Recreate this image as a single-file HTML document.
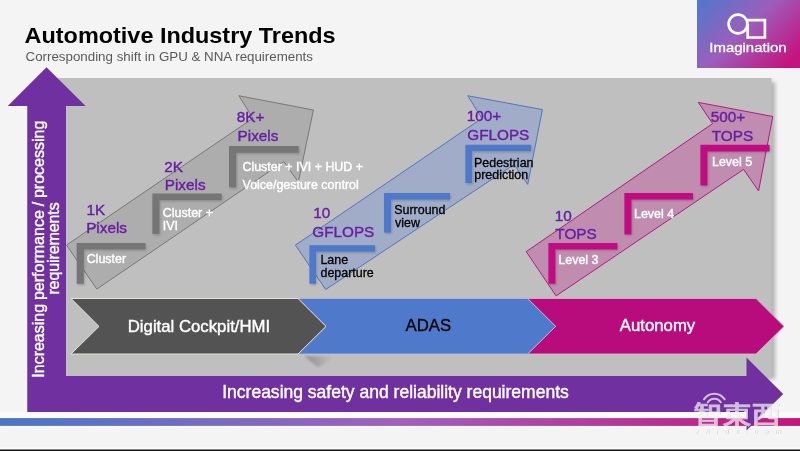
<!DOCTYPE html>
<html><head><meta charset="utf-8">
<style>
html,body{margin:0;padding:0;background:#f4f4f4;}
body{width:800px;height:451px;overflow:hidden;position:relative;font-family:"Liberation Sans",sans-serif;}
svg{position:absolute;left:0;top:0;display:block;will-change:transform;}
text{font-family:"Liberation Sans","Noto Sans CJK SC",sans-serif;}
.p{fill:#681fa4;font-size:15.3px;stroke:#681fa4;stroke-width:0.4px;}
.w{fill:#fff;font-size:12.45px;stroke:#fff;stroke-width:0.4px;}
.k{fill:#000;font-size:12.45px;stroke:#000;stroke-width:0.3px;}
</style></head><body>
<svg width="800" height="451" viewBox="0 0 800 451">
<defs>
<linearGradient id="lg" gradientUnits="userSpaceOnUse" x1="697" y1="0" x2="773" y2="77">
<stop offset="0" stop-color="#4c78cc"/><stop offset="0.5" stop-color="#9a5fbc"/><stop offset="1" stop-color="#c4157f"/>
</linearGradient>
<linearGradient id="bar" x1="0" y1="0" x2="1" y2="0">
<stop offset="0" stop-color="#4a76c8"/><stop offset="0.5" stop-color="#a060bc"/><stop offset="1" stop-color="#c4157f"/>
</linearGradient>
<filter id="ps" x="-5%" y="-5%" width="112%" height="112%"><feGaussianBlur stdDeviation="2.3"/></filter>
<filter id="bs" x="-20%" y="-20%" width="150%" height="150%"><feGaussianBlur stdDeviation="1"/></filter>
<linearGradient id="sh" x1="304" y1="0" x2="333" y2="0" gradientUnits="userSpaceOnUse">
<stop offset="0" stop-color="#707070" stop-opacity="0.6"/><stop offset="0.45" stop-color="#7a7a7a" stop-opacity="0.4"/><stop offset="1" stop-color="#8a8a8a" stop-opacity="0"/>
</linearGradient>
<filter id="sb" x="-10%" y="-20%" width="120%" height="140%"><feGaussianBlur stdDeviation="0.9"/></filter>
<polygon id="arrow" points="66.25,245.5 254,118 239,96 313.4,110 298.6,181.6 283.6,162 97,288.75"/>
</defs>
<rect width="800" height="451" fill="#f4f4f4"/>
<!-- bottom bar -->
<rect x="0" y="412.3" width="800" height="15.2" fill="#fbfbfb"/>
<rect x="0" y="418.1" width="800" height="7.8" fill="url(#bar)"/>
<rect x="0" y="447.6" width="800" height="2" fill="#fdfdfd"/>
<rect x="0" y="449.5" width="800" height="1.5" fill="#111"/>

<!-- panel shadow + panel -->
<rect x="62" y="82" width="713" height="297" fill="#000" opacity="0.28" filter="url(#ps)"/>
<rect x="58" y="78" width="713.6" height="300" fill="#bfbfbf"/>

<!-- diagonal arrows -->
<polygon points="66.5,245.1 253,118.2 238.9,95.75 313.4,110 298.3,182.1 283.8,161.6 96.8,289.1" fill="#a9a9a9" fill-opacity="0.85" stroke="#787878" stroke-width="1"/>
<polygon points="295.4,245.1 481.8,118.4 467.75,95.75 542.4,109.6 527.7,184.4 514.2,164.5 325.7,289.5" fill="#9fabc8" fill-opacity="0.95" stroke="#5076bc" stroke-width="1"/>
<polygon points="526.25,251.6 712.6,123.6 698.3,102.4 772.8,116.5 758.6,191 743.6,169.4 556.1,295.9" fill="#c08ab0" fill-opacity="0.95" stroke="#b01c7c" stroke-width="1"/>

<!-- brackets -->
<g fill="#000" opacity="0.18" filter="url(#bs)" transform="translate(1,1.4)">
<path d="M76.7 242.9H145.4V249.3H83.8V283.8H76.7Z"/><path d="M152.4 193.6H221.6V200H159.4V234H152.4Z"/><path d="M229 145.9H298.7V152.8H236.1V187.3H229Z"/><path d="M309.4 245.2H375V251.5H316V283.8H309.4Z"/><path d="M384 193H450V199.4H391V232.4H384Z"/><path d="M465.4 144.8H531V151H472V183H465.4Z"/><path d="M548.4 243H617.4V249.4H555.4V283.8H548.4Z"/><path d="M624.4 193H693V199.6H631.4V234.4H624.4Z"/><path d="M700.4 144.8H769.6V151.4H707.4V185.4H700.4Z"/>
</g>
<g fill="#767676"><path d="M76.7 242.9H145.4V249.3H83.8V283.8H76.7Z"/><path d="M152.4 193.6H221.6V200H159.4V234H152.4Z"/><path d="M229 145.9H298.7V152.8H236.1V187.3H229Z"/></g>
<g fill="#4e79ca"><path d="M309.4 245.2H375V251.5H316V283.8H309.4Z"/><path d="M384 193H450V199.4H391V232.4H384Z"/><path d="M465.4 144.8H531V151H472V183H465.4Z"/></g>
<g fill="#c00c80"><path d="M548.4 243H617.4V249.4H555.4V283.8H548.4Z"/><path d="M624.4 193H693V199.6H631.4V234.4H624.4Z"/><path d="M700.4 144.8H769.6V151.4H707.4V185.4H700.4Z"/></g>

<!-- labels -->
<text class="p" x="86.45" y="214.9">1K</text>
<text class="p" x="86.15" y="233.1">Pixels</text>
<text class="p" x="164.25" y="171.6">2K</text>
<text class="p" x="164.75" y="190">Pixels</text>
<text class="p" x="236.85" y="122.2">8K+</text>
<text class="p" x="237.55" y="140.6">Pixels</text>
<text class="p" x="313.15" y="218">10</text>
<text class="p" x="312.25" y="236.5">GFLOPS</text>
<text class="p" x="466.75" y="121.3">100+</text>
<text class="p" x="467.25" y="139.6">GFLOPS</text>
<text class="p" x="554.75" y="221">10</text>
<text class="p" x="555.35" y="239.4">TOPS</text>
<text class="p" x="710.65" y="122.4">500+</text>
<text class="p" x="711.75" y="140.9">TOPS</text>
<text class="w" x="86.65" y="262.7">Cluster</text>
<text class="w" x="162.85" y="217">Cluster +</text>
<text class="w" x="162.75" y="230">IVI</text>
<text class="w" x="242.45" y="171">Cluster + IVI + HUD +</text>
<text class="w" x="242.55" y="189.2">Voice/gesture control</text>
<text class="w" x="558.4" y="264">Level 3</text>
<text class="w" x="634" y="218">Level 4</text>
<text class="w" x="712" y="166.4">Level 5</text>
<text class="k" x="320.4" y="264">Lane</text>
<text class="k" x="320.5" y="276.6">departure</text>
<text class="k" x="394.25" y="214">Surround</text>
<text class="k" x="395" y="226.6">view</text>
<text class="k" x="474" y="166.6">Pedestrian</text>
<text class="k" x="474.25" y="179">prediction</text>

<!-- chevrons -->
<polygon points="304.5,356.3 335,356.3 331,361 318,367.5" fill="url(#sh)" filter="url(#sb)"/>
<polygon points="298,298.5 756,298.5 784,326.4 756,354 298,354" fill="#b80c7c"/>
<polygon points="527.6,298.5 756,298.5 784,326.4 756,354 527.6,354 555.6,326.4" fill="#b80c7c" stroke="#d8c0d0" stroke-width="0.8"/>
<polygon points="298,298.5 527.6,298.5 555.6,326.4 527.6,354 298,354 326,326.4" fill="#4f7acb" stroke="#bcc4d4" stroke-width="0.8"/>
<polygon points="71,298.5 298,298.5 326,326.4 298,354 71,354 99,326.4" fill="#535353" stroke="#e6e2d8" stroke-width="1"/>
<text x="127.75" y="331.6" font-size="16.75" fill="#fff" stroke="#fff" stroke-width="0.4">Digital Cockpit/HMI</text>
<text x="405.5" y="330.85" font-size="16.75" fill="#000" stroke="#000" stroke-width="0.3">ADAS</text>
<text x="619.8" y="330.9" font-size="16.75" fill="#fff" stroke="#fff" stroke-width="0.4">Autonomy</text>

<!-- purple arrows -->
<polygon points="46.5,67.25 85.6,106 66,106 66,376 746.5,376 746.5,357.5 783.2,394 746.5,430.5 746.5,412 27.25,412 27.25,106 7.75,106" fill="#7030a0"/>
<text x="222.2" y="398" font-size="17.53" fill="#fff" stroke="#fff" stroke-width="0.4">Increasing safety and reliability requirements</text>
<text transform="translate(43.8,377.7) rotate(-90)" font-size="16" style="word-spacing:-0.6px" fill="#fff" stroke="#fff" stroke-width="0.4">Increasing performance / processing</text>
<text transform="translate(59,294.6) rotate(-90)" font-size="16" textLength="92.3" lengthAdjust="spacing" fill="#fff" stroke="#fff" stroke-width="0.4">requirements</text>

<!-- title -->
<text x="24.6" y="42.8" font-size="22.8" font-weight="bold" fill="#000" textLength="311" lengthAdjust="spacingAndGlyphs">Automotive Industry Trends</text>
<text x="25.5" y="60.6" font-size="13.15" fill="#595959" textLength="287.5" lengthAdjust="spacingAndGlyphs">Corresponding shift in GPU &amp; NNA requirements</text>

<!-- logo -->
<rect x="697" y="0" width="103" height="68" fill="url(#lg)"/>
<g fill="none" stroke="#fff" stroke-width="2.7">
<circle cx="738" cy="24" r="9.4"/>
<path d="M747.7 24V37.5H764.9V20.2H746"/>
</g>
<text x="709.3" y="51.7" font-size="12.85" textLength="77.3" lengthAdjust="spacingAndGlyphs" fill="#fff" stroke="#fff" stroke-width="0.3">Imagination</text>

<!-- watermark -->
<g fill="#000" opacity="0.13" transform="translate(0.8,0.8)">
<text x="693.5" y="423.6" font-size="24.5" font-weight="500" textLength="87" lengthAdjust="spacingAndGlyphs" stroke="#000" stroke-width="0.7" stroke-linejoin="round">智東西</text>
<text x="695" y="433.6" font-size="7" font-weight="bold" font-style="italic" textLength="86">zhidx.com</text>
</g>
<g opacity="0.7" fill="#fff" stroke="#fff" stroke-linejoin="round" stroke-linecap="round">
<text x="693.5" y="423.6" font-size="24.5" font-weight="500" textLength="87" lengthAdjust="spacingAndGlyphs" stroke-width="0.7">智東西</text>
<path d="M704 399.3A12.2 12.2 0 0 1 724.6 399.3" fill="none" stroke-width="2"/>
<path d="M707.8 402.2A7.8 7.8 0 0 1 720.8 402.2" fill="none" stroke-width="2"/>
</g>
<text x="695" y="433.6" font-size="7" font-weight="bold" font-style="italic" textLength="86" fill="#fff" fill-opacity="0.6">zhidx.com</text>
</svg>
</body></html>
